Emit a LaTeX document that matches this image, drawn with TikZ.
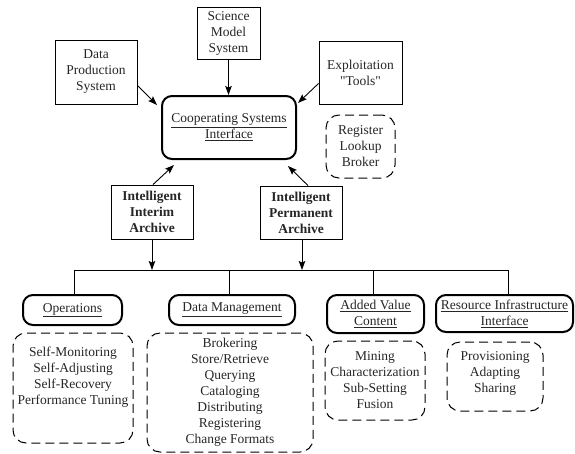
\documentclass[tikz,border=0pt]{standalone}
\usepackage{fontspec}
\setmainfont{Liberation Serif}[Ligatures=TeXOff]
\usetikzlibrary{arrows.meta,calc}
\begin{document}
\begin{tikzpicture}[x=1pt,y=-1pt,
  every node/.style={font=\fontsize{13.5}{16}\selectfont, align=center, inner sep=0pt, text=black!85},
  plain/.style={draw, line width=0.9pt, rectangle},
  thickbox/.style={draw, line width=2pt, rounded corners=10pt},
  dbox/.style={draw, line width=1pt, dash pattern=on 9pt off 5pt, rounded corners=13pt},
  conn/.style={line width=0.9pt},
  arr/.style={conn, -{Stealth[length=9pt,width=6.5pt,inset=1.5pt]}},
]
\useasboundingbox (0,0) rectangle (575,453);
% top boxes
\node[plain, minimum width=82pt, minimum height=64pt] (dps) at (96,72) {Data\\Production\\System};
\node[plain, minimum width=63pt, minimum height=52pt] (sms) at (228.5,33) {Science\\Model\\System};
\node[plain, minimum width=83pt, minimum height=63pt] (exp) at (360.5,72.5) {Exploitation\\"Tools"};
\node[thickbox, minimum width=134pt, minimum height=63pt] (csi) at (229,127.5) {\underline{Cooperating Systems}\\\underline{Interface}};
\node[dbox, minimum width=69pt, minimum height=63pt] (rlb) at (360.5,146.5) {Register\\Lookup\\Broker};
% archives
\node[plain, minimum width=82pt, minimum height=54pt, font=\fontsize{13.5}{16}\selectfont\bfseries] (iia) at (152,212) {Intelligent\\Interim\\Archive};
\node[plain, minimum width=82pt, minimum height=53pt, font=\fontsize{13.5}{16}\selectfont\bfseries] (ipa) at (301,212.5) {Intelligent\\Permanent\\Archive};
% arrows to CSI
\draw[arr] ($(dps.south east)+(0,-19)$) -- ($(csi.north west)+(-4,10)$);
\draw[arr] (sms.south) -- (sms.south |- csi.north);
\draw[arr] ($(exp.south west)+(0,-21)$) -- ($(csi.north east)+(1,8)$);
\draw[arr] ($(iia.north)+(1,0)$) -- ($(csi.south west)+(13,5)$);
\draw[arr] ($(ipa.north)+(7,0)$) -- ($(csi.south east)+(-9,6)$);
% bottom boxes
\node[thickbox, minimum width=99pt, minimum height=30pt] (ops) at (72.5,310) {\underline{Operations}};
\node[thickbox, minimum width=126pt, minimum height=30pt] (dm) at (232,310) {\underline{Data Management}};
\node[thickbox, minimum width=97pt, minimum height=38pt] (avc) at (375.5,314) {\underline{Added Value}\\\underline{Content}};
\node[thickbox, minimum width=137pt, minimum height=37pt] (rii) at (504.5,313.5) {\underline{Resource Infrastructure}\\\underline{Interface}};
% bus
\coordinate (b1) at (74,270);
\coordinate (b2) at (229,270);
\coordinate (b3) at (373,270);
\coordinate (b4) at (508,270);
\draw[conn] (b1) -- (b4);
\draw[conn] (b1) -- (b1 |- ops.north);
\draw[conn] (b2) -- (b2 |- dm.north);
\draw[conn] (b3) -- (b3 |- avc.north);
\draw[conn] (b4) -- (b4 |- rii.north);
\draw[arr] (iia.south) -- (iia.south |- b1);
\draw[arr] ($(ipa.south)+(1,0)$) -- ($(ipa.south |- b1)+(1,0)$);
% dashed lists
\node[dbox, minimum width=120pt, minimum height=110pt] (opsd) at (73,388) {\parbox[c][110pt][t]{120pt}{\centering\vspace*{14pt}Self-Monitoring\\Self-Adjusting\\Self-Recovery\\Performance Tuning}};
\node[dbox, minimum width=166pt, minimum height=119pt] (dmd) at (230,392.5) {Brokering\\Store/Retrieve\\Querying\\Cataloging\\Distributing\\Registering\\Change Formats};
\node[dbox, minimum width=100pt, minimum height=79pt] (avcd) at (375,380.5) {Mining\\Characterization\\Sub-Setting\\Fusion};
\node[dbox, minimum width=96pt, minimum height=69pt] (riid) at (495,376.5) {\parbox[c][69pt][t]{96pt}{\centering\vspace*{10pt}Provisioning\\Adapting\\Sharing}};
\end{tikzpicture}
\end{document}
